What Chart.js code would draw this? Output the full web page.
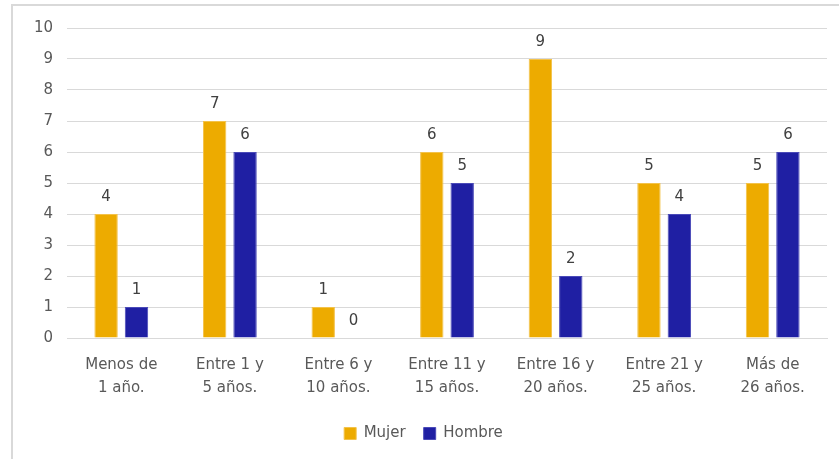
<!DOCTYPE html>
<html>
<head>
<meta charset="utf-8">
<script src="https://cdn.jsdelivr.net/npm/chart.js@4"></script>
<style>
  body { margin: 0; background: #fff; overflow: hidden; }
  #frame { position: absolute; left: 11px; top: 4px; width: 900px; height: 500px;
           border-left: 2px solid #d9d9d9; border-top: 2px solid #d9d9d9; }
  #wrap { position: absolute; left: 0; top: 0; width: 839px; height: 459px; }
</style>
</head>
<body>
<div id="frame"></div>
<div id="wrap"><canvas id="myChart"></canvas></div>
<script>
const categories = [['Menos de', '1 año.'], ['Entre 1 y', '5 años.'], ['Entre 6 y', '10 años.'],
  ['Entre 11 y', '15 años.'], ['Entre 16 y', '20 años.'], ['Entre 21 y', '25 años.'], ['Más de', '26 años.']];
const mujer = [4, 7, 1, 6, 9, 5, 5];
const hombre = [1, 6, 0, 5, 2, 4, 6];

const FONT = '"DejaVu Sans", sans-serif';

// numbers above each bar
const valueLabels = {
  id: 'valueLabels',
  afterDatasetsDraw(chart) {
    const c = chart.ctx;
    c.save();
    c.font = '15px ' + FONT;
    c.fillStyle = '#404040';
    c.textAlign = 'center';
    c.textBaseline = 'bottom';
    chart.data.datasets.forEach((ds, i) => {
      chart.getDatasetMeta(i).data.forEach((bar, j) => {
        c.fillText(ds.data[j], bar.x, bar.y - 9);
      });
    });
    c.restore();
  }
};

const ctx = document.getElementById('myChart').getContext('2d');
const myChart = new Chart(ctx, {
    type: 'bar',
    data: {
        labels: categories,
        datasets: [{
            label: 'Mujer',
            data: mujer,
            backgroundColor: '#EDAB00',
            borderColor: '#F3C24A',
            borderWidth: 1
        }, {
            label: 'Hombre',
            data: hombre,
            backgroundColor: '#1F1FA3',
            borderColor: '#4A4AB8',
            borderWidth: 1
        }]
    },
    options: {
        responsive: true,
        maintainAspectRatio: false,
        animation: false,
        layout: { padding: { left: 20, right: 12, top: 28, bottom: 8 } },
        datasets: { bar: { categoryPercentage: 0.56, barPercentage: 0.77 } },
        scales: {
            x: {
                grid: { display: false },
                border: { color: '#d9d9d9', width: 1 },
                ticks: { color: '#595959', font: { family: FONT, size: 15, lineHeight: '23px' }, maxRotation: 0, padding: 8 }
            },
            y: {
                min: 0, max: 10,
                afterFit(scale) { scale.width = 47; },
                grid: { color: '#d9d9d9', drawTicks: false },
                border: { display: false },
                ticks: { stepSize: 1, color: '#595959', font: { family: FONT, size: 15 }, padding: 14 }
            }
        },
        plugins: {
            legend: {
                position: 'bottom',
                labels: { color: '#595959', font: { family: FONT, size: 15 }, boxWidth: 12, boxHeight: 12, padding: 18 }
            },
            tooltip: { enabled: false }
        }
    },
    plugins: [valueLabels]
});
</script>
</body>
</html>
